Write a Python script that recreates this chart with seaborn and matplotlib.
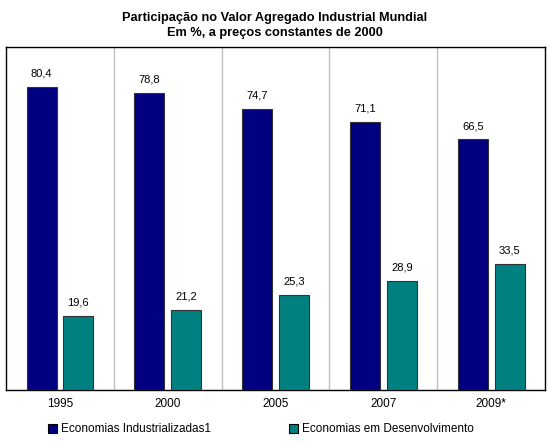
import matplotlib
matplotlib.use("Agg")
import matplotlib.pyplot as plt
import seaborn as sb
import pandas as pd

years = ["1995", "2000", "2005", "2007", "2009*"]
series = ["Economias Industrializadas1", "Economias em Desenvolvimento"]
industrial = [80.4, 78.8, 74.7, 71.1, 66.5]
developing = [19.6, 21.2, 25.3, 28.9, 33.5]
colors = ["#000080", "#008080"]

df = pd.DataFrame({
	"year": years * 2,
	"serie": [series[0]] * len(years) + [series[1]] * len(years),
	"value": industrial + developing,
})

sb.set_style("white")
plt.rcParams["font.family"] = ["Liberation Sans", "DejaVu Sans"]
plt.rcParams["text.color"] = "black"
plt.rcParams["xtick.color"] = "black"

fig = plt.figure(figsize=(5.5, 4.45), dpi=100)
ax = fig.add_axes([0.011, 0.1236, 0.98, 0.7704])

sb.barplot(data=df, x="year", y="value", hue="serie", palette=colors, saturation=1,
	width=0.684, gap=0.187, edgecolor="#333333", linewidth=0.8, ax=ax,
	legend=False, zorder=3)

for i in range(len(years) - 1):
	ax.axvline(i + 0.5, color="#c0c0c0", linewidth=1, zorder=1)

for cont in ax.containers:
	ax.bar_label(cont, labels=[f"{v:.1f}".replace(".", ",") for v in cont.datavalues],
		padding=6, fontsize=8, color="black")

ax.set_xlim(-0.5, len(years) - 0.5)
ax.set_ylim(0, 91)
ax.set_yticks([])
ax.set_xlabel("")
ax.set_ylabel("")
ax.tick_params(axis="x", length=0, pad=6, labelsize=8.5, labelcolor="black")
for s in ax.spines.values():
	s.set_color("black")
	s.set_linewidth(1)

fig.suptitle("Participação no Valor Agregado Industrial Mundial\nEm %, a preços constantes de 2000",
	y=0.972, fontsize=9.2, fontweight="bold", linespacing=1.3, color="black")

handles = [plt.Rectangle((0, 0), 1, 1, facecolor=c, edgecolor="black", linewidth=0.8) for c in colors]
fig.legend(handles, series, loc="lower left", bbox_to_anchor=(0.068, -0.002), ncol=2,
	frameon=False, fontsize=8.5, handlelength=0.8, handleheight=0.8,
	handletextpad=0.3, columnspacing=6.6)

fig.savefig("out.png", dpi=100, facecolor="white")
